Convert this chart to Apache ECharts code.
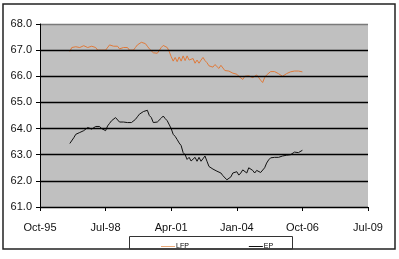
<!DOCTYPE html>
<html>
<head>
<meta charset="utf-8">
<script src="https://cdn.jsdelivr.net/npm/echarts@6/dist/echarts.min.js"></script>
<style>
html,body{margin:0;padding:0;background:#fff;}
#chart{width:399px;height:259px;}
</style>
</head>
<body>
<div id="chart"></div>
<script>
// x axis: months since Oct-95; ticks every 33 months
var xTickLabels = ['Oct-95', 'Jul-98', 'Apr-01', 'Jan-04', 'Oct-06', 'Jul-09'];
var yTickLabels = ['61.0', '62.0', '63.0', '64.0', '65.0', '66.0', '67.0', '68.0'];
var firstMonth = 15; // Jan-97, months after Oct-95

var lfp = [
  66.95, 67.10, 67.13, 67.13, 67.13, 67.10, 67.13, 67.17, 67.15, 67.10,
  67.13, 67.15, 67.10, 67.10, 67.00, 67.00, 67.00, 67.00, 67.00, 67.00,
  67.20, 67.15, 67.15, 67.20, 67.15, 67.05, 67.10, 67.10, 67.10, 67.10,
  67.00, 67.00, 67.00, 67.10, 67.20, 67.25, 67.30, 67.30, 67.25, 67.15,
  67.05, 67.00, 66.90, 66.85, 66.88, 66.95, 67.10, 67.18, 67.15, 67.10,
  66.95, 66.75, 66.58, 66.72, 66.56, 66.74, 66.58, 66.78, 66.60, 66.78,
  66.62, 66.55, 66.68, 66.50, 66.62, 66.50, 66.62, 66.72, 66.60, 66.52,
  66.40, 66.36, 66.35, 66.45, 66.40, 66.30, 66.42, 66.36, 66.22, 66.17,
  66.20, 66.15, 66.12, 66.10, 66.08, 66.00, 65.95, 65.88, 66.00, 65.95,
  66.02, 66.05, 65.95, 65.88, 66.05, 65.95, 65.85, 65.76, 65.95, 66.05,
  66.10, 66.18, 66.20, 66.18, 66.17, 66.10, 66.08, 66.00, 66.00, 66.10,
  66.15, 66.17, 66.18, 66.20, 66.20, 66.20, 66.20, 66.17
];

var ep = [
  63.43, 63.48, 63.65, 63.78, 63.72, 63.85, 63.88, 63.92, 63.95, 64.04,
  64.00, 63.98, 63.97, 64.08, 64.10, 64.08, 64.00, 63.97, 63.92, 64.10,
  64.20, 64.30, 64.25, 64.42, 64.45, 64.25, 64.30, 64.25, 64.23, 64.23,
  64.23, 64.23, 64.30, 64.35, 64.45, 64.55, 64.60, 64.65, 64.72, 64.70,
  64.50, 64.42, 64.23, 64.25, 64.25, 64.30, 64.40, 64.48, 64.38, 64.30,
  64.28, 64.00, 63.78, 63.70, 63.58, 63.45, 63.35, 63.08, 63.00, 62.82,
  62.90, 62.76, 62.72, 62.90, 62.75, 62.90, 62.75, 62.70, 62.95, 62.75,
  62.55, 62.48, 62.45, 62.45, 62.37, 62.35, 62.30, 62.20, 62.15, 62.04,
  62.05, 62.15, 62.30, 62.25, 62.35, 62.22, 62.30, 62.42, 62.35, 62.30,
  62.50, 62.55, 62.40, 62.30, 62.40, 62.38, 62.32, 62.30, 62.50, 62.68,
  62.80, 62.88, 62.92, 62.90, 62.90, 62.90, 62.90, 62.95, 63.00, 62.98,
  63.00, 63.00, 63.06, 63.10, 63.06, 63.08, 63.15, 63.17
];

function toPairs(arr) {
  return arr.map(function (v, i) { return [firstMonth + i, v]; });
}

var chart = echarts.init(document.getElementById('chart'), null, {renderer: 'canvas'});
var font = 'Liberation Sans, Arial, sans-serif';
chart.setOption({
  animation: false,
  backgroundColor: '#fff',
  grid: {
    left: 40, top: 24, width: 328, height: 183,
    show: true, backgroundColor: '#c0c0c0', borderWidth: 0
  },
  legend: {
    left: 156, top: 238,
    itemWidth: 14, itemHeight: 6, itemGap: 60,
    icon: 'path://M0,3 L14,3 L14,4 L0,4 Z',
    textStyle: {fontFamily: font, fontSize: 7, color: '#000', padding: [0, 0, 0, -4]},
    data: ['LFP', 'EP']
  },
  xAxis: {
    type: 'value', min: 0, max: 165, interval: 33,
    axisLine: {show: true, onZero: false, lineStyle: {color: '#000', width: 1}},
    axisTick: {show: true, length: 4, lineStyle: {color: '#000'}},
    axisLabel: {
      margin: 15, fontFamily: font, fontSize: 11, color: '#111',
      formatter: function (v) { return xTickLabels[Math.round(v / 33)]; }
    },
    splitLine: {show: false}
  },
  yAxis: {
    type: 'value', min: 61, max: 68, interval: 1, z: 5,
    axisLine: {show: true, lineStyle: {color: '#000', width: 1}},
    axisTick: {show: true, length: 4, lineStyle: {color: '#000'}},
    axisLabel: {
      margin: 8, fontFamily: font, fontSize: 11, color: '#111',
      formatter: function (v) { return yTickLabels[Math.round(v - 61)]; }
    },
    splitLine: {show: true, lineStyle: {color: ['#000', '#000', '#000', '#000', '#000', '#000', '#000', '#7a7a7a'], width: 1.3}}
  },
  series: [
    {
      name: 'LFP', type: 'line', data: toPairs(lfp), showSymbol: false, z: 2,
      lineStyle: {color: '#e07a3a', width: 1}, itemStyle: {color: '#e8a878'}
    },
    {
      name: 'EP', type: 'line', data: toPairs(ep), showSymbol: false, z: 2,
      lineStyle: {color: '#111', width: 1}, itemStyle: {color: '#111'}
    }
  ],
  graphic: [
    {type: 'rect', shape: {x: 3, y: 4, width: 392, height: 245}, style: {fill: null, stroke: '#222', lineWidth: 1.5}, z: 10},
    {type: 'rect', shape: {x: 129.5, y: 236.5, width: 163, height: 12.5}, style: {fill: null, stroke: '#333', lineWidth: 1}, z: 10}
  ]
});
</script>
</body>
</html>
